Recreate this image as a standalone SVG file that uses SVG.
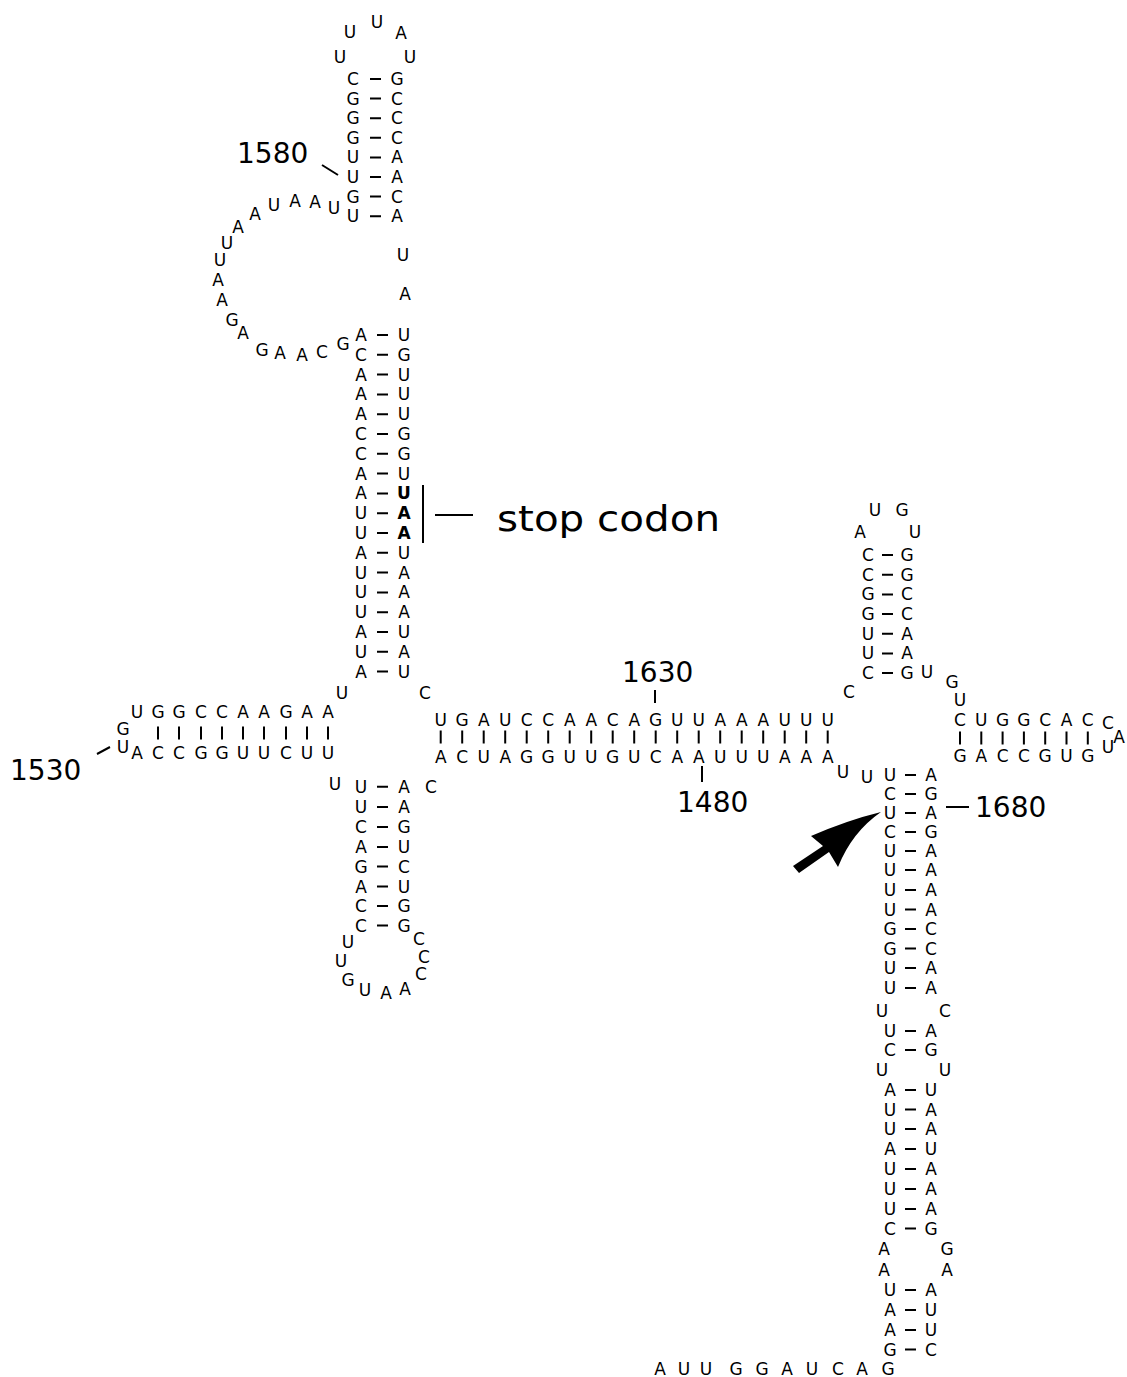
<svg xmlns="http://www.w3.org/2000/svg" width="1127" height="1377" viewBox="0 0 1127 1377">
<style>
.n{font-family:"DejaVu Sans","Liberation Sans",sans-serif;font-size:17px;text-anchor:middle;fill:#000}
.b{font-weight:bold}
.lbl{font-family:"DejaVu Sans","Liberation Sans",sans-serif;font-size:28px;fill:#000}
.bond{stroke:#000;stroke-width:2;fill:none}
</style>
<rect width="1127" height="1377" fill="#fff"/>
<g id="hairpin-top" class="n">
<text x="350" y="38">U</text><text x="377" y="28">U</text><text x="401" y="39">A</text><text x="340" y="63">U</text><text x="410" y="63">U</text>
<text x="353" y="85">C</text><text x="397" y="85">G</text>
<text x="353" y="104.6">G</text><text x="397" y="104.6">C</text>
<text x="353" y="124.2">G</text><text x="397" y="124.2">C</text>
<text x="353" y="143.8">G</text><text x="397" y="143.8">C</text>
<text x="353" y="163.4">U</text><text x="397" y="163.4">A</text>
<text x="353" y="183">U</text><text x="397" y="183">A</text>
<text x="353" y="202.6">G</text><text x="397" y="202.6">C</text>
<text x="353" y="222.2">U</text><text x="397" y="222.2">A</text>
</g>
<g id="internal-loop" class="n">
<text x="334" y="214">U</text><text x="315" y="208">A</text><text x="295" y="207">A</text><text x="274" y="211">U</text><text x="255" y="220">A</text><text x="238" y="233">A</text><text x="227" y="249">U</text><text x="220" y="266">U</text><text x="218" y="286">A</text><text x="222" y="306">A</text><text x="232" y="326">G</text><text x="243" y="339">A</text><text x="262" y="356">G</text><text x="280" y="359">A</text><text x="302" y="361">A</text><text x="322" y="358">C</text><text x="343" y="350">G</text>
<text x="403" y="261">U</text><text x="405" y="300">A</text>
</g>
<g id="stem-main" class="n">
<text x="361" y="341">A</text><text x="404" y="341">U</text>
<text x="361" y="360.8">C</text><text x="404" y="360.8">G</text>
<text x="361" y="380.6">A</text><text x="404" y="380.6">U</text>
<text x="361" y="400.4">A</text><text x="404" y="400.4">U</text>
<text x="361" y="420.2">A</text><text x="404" y="420.2">U</text>
<text x="361" y="440">C</text><text x="404" y="440">G</text>
<text x="361" y="459.8">C</text><text x="404" y="459.8">G</text>
<text x="361" y="479.6">A</text><text x="404" y="479.6">U</text>
<text x="361" y="499.4">A</text><text x="404" y="499.4" class="b">U</text>
<text x="361" y="519.2">U</text><text x="404" y="519.2" class="b">A</text>
<text x="361" y="539">U</text><text x="404" y="539" class="b">A</text>
<text x="361" y="558.8">A</text><text x="404" y="558.8">U</text>
<text x="361" y="578.6">U</text><text x="404" y="578.6">A</text>
<text x="361" y="598.4">U</text><text x="404" y="598.4">A</text>
<text x="361" y="618.2">U</text><text x="404" y="618.2">A</text>
<text x="361" y="638">A</text><text x="404" y="638">U</text>
<text x="361" y="657.8">U</text><text x="404" y="657.8">A</text>
<text x="361" y="677.6">A</text><text x="404" y="677.6">U</text>
<text x="342" y="699">U</text><text x="425" y="699">C</text>
</g>
<g id="arm-1530" class="n">
<text x="137" y="718">U</text><text x="158" y="718">G</text><text x="179" y="718">G</text><text x="201" y="718">C</text><text x="222" y="718">C</text><text x="243" y="718">A</text><text x="264" y="718">A</text><text x="286" y="718">G</text><text x="307" y="718">A</text><text x="328" y="718">A</text>
<text x="137" y="759">A</text><text x="158" y="759">C</text><text x="179" y="759">C</text><text x="201" y="759">G</text><text x="222" y="759">G</text><text x="243" y="759">U</text><text x="264" y="759">U</text><text x="286" y="759">C</text><text x="307" y="759">U</text><text x="328" y="759">U</text>
<text x="123" y="735">G</text><text x="123" y="753">U</text>
</g>
<g id="hairpin-bottom-left" class="n">
<text x="335" y="790">U</text><text x="431" y="792.7">C</text>
<text x="361" y="792.7">U</text><text x="404" y="792.7">A</text>
<text x="361" y="813">U</text><text x="404" y="813">A</text>
<text x="361" y="833">C</text><text x="404" y="833">G</text>
<text x="361" y="853">A</text><text x="404" y="853">U</text>
<text x="361" y="872.5">G</text><text x="404" y="872.5">C</text>
<text x="361" y="892.5">A</text><text x="404" y="892.5">U</text>
<text x="361" y="912">C</text><text x="404" y="912">G</text>
<text x="361" y="931.5">C</text><text x="404" y="931.5">G</text>
<text x="348" y="948">U</text><text x="341" y="967">U</text><text x="348" y="986">G</text><text x="365" y="996">U</text><text x="386" y="999">A</text><text x="405" y="995">A</text><text x="421" y="980">C</text><text x="424" y="963">C</text><text x="419" y="945">C</text>
</g>
<g id="helix-1480-1630" class="n">
<text x="440.7" y="726">U</text><text x="462.2" y="726">G</text><text x="483.7" y="726">A</text><text x="505.2" y="726">U</text><text x="526.7" y="726">C</text><text x="548.2" y="726">C</text><text x="569.7" y="726">A</text><text x="591.2" y="726">A</text><text x="612.7" y="726">C</text><text x="634.2" y="726">A</text><text x="655.7" y="726">G</text><text x="677.2" y="726">U</text><text x="698.7" y="726">U</text><text x="720.2" y="726">A</text><text x="741.7" y="726">A</text><text x="763.2" y="726">A</text><text x="784.7" y="726">U</text><text x="806.2" y="726">U</text><text x="827.7" y="726">U</text>
<text x="440.7" y="763">A</text><text x="462.2" y="763">C</text><text x="483.7" y="763">U</text><text x="505.2" y="763">A</text><text x="526.7" y="763">G</text><text x="548.2" y="763">G</text><text x="569.7" y="763">U</text><text x="591.2" y="763">U</text><text x="612.7" y="763">G</text><text x="634.2" y="763">U</text><text x="655.7" y="763">C</text><text x="677.2" y="763">A</text><text x="698.7" y="763">A</text><text x="720.2" y="763">U</text><text x="741.7" y="763">U</text><text x="763.2" y="763">U</text><text x="784.7" y="763">A</text><text x="806.2" y="763">A</text><text x="827.7" y="763">A</text>
<text x="849" y="698">C</text><text x="843" y="778">U</text><text x="867" y="783">U</text>
</g>
<g id="hairpin-right" class="n">
<text x="875" y="516">U</text><text x="902" y="516">G</text><text x="860" y="538">A</text><text x="915" y="538">U</text>
<text x="868" y="561">C</text><text x="907" y="561">G</text>
<text x="868" y="580.7">C</text><text x="907" y="580.7">G</text>
<text x="868" y="600.4">G</text><text x="907" y="600.4">C</text>
<text x="868" y="620">G</text><text x="907" y="620">C</text>
<text x="868" y="639.7">U</text><text x="907" y="639.7">A</text>
<text x="868" y="659.4">U</text><text x="907" y="659.4">A</text>
<text x="868" y="679">C</text><text x="907" y="679">G</text>
<text x="927" y="678">U</text><text x="952" y="688">G</text><text x="960" y="706">U</text>
</g>
<g id="arm-right" class="n">
<text x="960" y="726">C</text><text x="981.3" y="726">U</text><text x="1002.6" y="726">G</text><text x="1023.9" y="726">G</text><text x="1045.2" y="726">C</text><text x="1066.5" y="726">A</text><text x="1087.8" y="726">C</text><text x="1108" y="729">C</text>
<text x="960" y="762">G</text><text x="981.3" y="762">A</text><text x="1002.6" y="762">C</text><text x="1023.9" y="762">C</text><text x="1045.2" y="762">G</text><text x="1066.5" y="762">U</text><text x="1087.8" y="762">G</text><text x="1108" y="753">U</text>
<text x="1119" y="743">A</text>
</g>
<g id="stem-1680" class="n">
<text x="890" y="781">U</text><text x="931" y="781">A</text>
<text x="890" y="800">C</text><text x="931" y="800">G</text>
<text x="890" y="819">U</text><text x="931" y="819">A</text>
<text x="890" y="838">C</text><text x="931" y="838">G</text>
<text x="890" y="857">U</text><text x="931" y="857">A</text>
<text x="890" y="876">U</text><text x="931" y="876">A</text>
<text x="890" y="896">U</text><text x="931" y="896">A</text>
<text x="890" y="915.5">U</text><text x="931" y="915.5">A</text>
<text x="890" y="935">G</text><text x="931" y="935">C</text>
<text x="890" y="954.5">G</text><text x="931" y="954.5">C</text>
<text x="890" y="974">U</text><text x="931" y="974">A</text>
<text x="890" y="994">U</text><text x="931" y="994">A</text>
<text x="882" y="1017">U</text><text x="945" y="1017">C</text>
<text x="890" y="1037">U</text><text x="931" y="1037">A</text>
<text x="890" y="1056">C</text><text x="931" y="1056">G</text>
<text x="882" y="1076">U</text><text x="945" y="1076">U</text>
<text x="890" y="1096">A</text><text x="931" y="1096">U</text>
<text x="890" y="1115.5">U</text><text x="931" y="1115.5">A</text>
<text x="890" y="1135">U</text><text x="931" y="1135">A</text>
<text x="890" y="1155">A</text><text x="931" y="1155">U</text>
<text x="890" y="1175">U</text><text x="931" y="1175">A</text>
<text x="890" y="1195">U</text><text x="931" y="1195">A</text>
<text x="890" y="1215">U</text><text x="931" y="1215">A</text>
<text x="890" y="1234.5">C</text><text x="931" y="1234.5">G</text>
<text x="884" y="1255">A</text><text x="947" y="1255">G</text>
<text x="884" y="1276">A</text><text x="947" y="1276">A</text>
<text x="890" y="1296">U</text><text x="931" y="1296">A</text>
<text x="890" y="1316">A</text><text x="931" y="1316">U</text>
<text x="890" y="1336">A</text><text x="931" y="1336">U</text>
<text x="890" y="1355.5">G</text><text x="931" y="1355.5">C</text>
<text x="660" y="1375">A</text><text x="684" y="1375">U</text><text x="706" y="1375">U</text><text x="736" y="1375">G</text><text x="762" y="1375">G</text><text x="787" y="1375">A</text><text x="812" y="1375">U</text><text x="838" y="1375">C</text><text x="862" y="1375">A</text><text x="888" y="1375">G</text>
</g>
<g id="connectors" class="bond">
<path d="M370 79h11M370 98.6h11M370 118.2h11M370 137.8h11M370 157.4h11M370 177h11M370 196.6h11M370 216.2h11"/>
<path d="M377 335h11M377 354.8h11M377 374.6h11M377 394.4h11M377 414.2h11M377 434h11M377 453.8h11M377 473.6h11M377 493.4h11M377 513.2h11M377 533h11M377 552.8h11M377 572.6h11M377 592.4h11M377 612.2h11M377 632h11M377 651.8h11M377 671.6h11"/>
<path d="M158 726.5v13M179 726.5v13M201 726.5v13M222 726.5v13M243 726.5v13M264 726.5v13M286 726.5v13M307 726.5v13M328 726.5v13"/>
<path d="M377 786.7h11M377 807h11M377 827h11M377 847h11M377 866.5h11M377 886.5h11M377 906h11M377 925.5h11"/>
<path d="M440.7 730.5v13M462.2 730.5v13M483.7 730.5v13M505.2 730.5v13M526.7 730.5v13M548.2 730.5v13M569.7 730.5v13M591.2 730.5v13M612.7 730.5v13M634.2 730.5v13M655.7 730.5v13M677.2 730.5v13M698.7 730.5v13M720.2 730.5v13M741.7 730.5v13M763.2 730.5v13M784.7 730.5v13M806.2 730.5v13M827.7 730.5v13"/>
<path d="M882 555h11M882 574.7h11M882 594.4h11M882 614h11M882 633.7h11M882 653.4h11M882 673h11"/>
<path d="M960 731.5v13M981.3 731.5v13M1002.6 731.5v13M1023.9 731.5v13M1045.2 731.5v13M1066.5 731.5v13M1087.8 731.5v13"/>
<path d="M905 775h11M905 794h11M905 813h11M905 832h11M905 851h11M905 870h11M905 890h11M905 909.5h11M905 929h11M905 948.5h11M905 968h11M905 988h11M905 1031h11M905 1050h11M905 1090h11M905 1109.5h11M905 1129h11M905 1149h11M905 1169h11M905 1189h11M905 1209h11M905 1228.5h11M905 1290h11M905 1310h11M905 1330h11M905 1349.5h11"/>
</g>
<g id="labels">
<text class="lbl" x="237" y="163">1580</text>
<text class="lbl" x="10" y="780">1530</text>
<text class="lbl" x="622" y="682">1630</text>
<text class="lbl" x="677" y="812">1480</text>
<text class="lbl" x="975" y="817">1680</text>
<text class="lbl" x="497" y="531" style="font-size:36px" textLength="223" lengthAdjust="spacingAndGlyphs">stop codon</text>
<path class="bond" d="M322 165L338 175M97 754L110 747M655 690V703M702 766V782M946 807H969M423 485V543M435 515H473"/>
<path id="arrow" fill="#000" d="M881 812Q852 832 838 867L829 852L799 873L793 866L823 846L811 836Q848 820 881 812Z"/>
</g>
</svg>
